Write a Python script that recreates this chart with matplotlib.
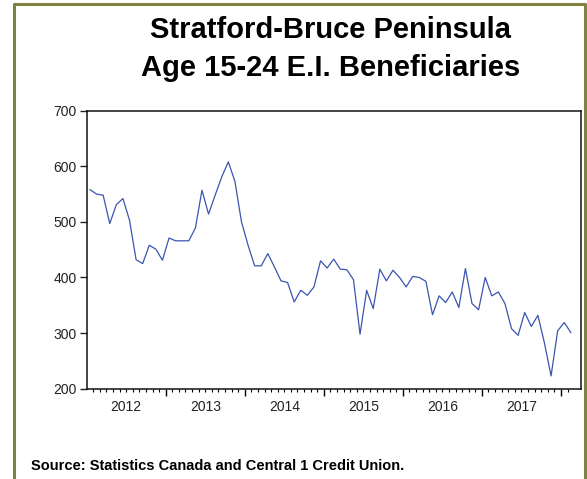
import matplotlib.pyplot as plt
from matplotlib.lines import Line2D
import numpy as np

plt.rcParams["font.family"] = ["Liberation Sans", "DejaVu Sans"]

# monthly E.I. beneficiaries, age 15-24, Jan 2012 .. Feb 2018
start_year = 2012
beneficiaries = [
    558, 550, 548, 497, 531, 542, 503, 432, 425, 458, 451, 431,
    471, 466, 466, 466, 489, 557, 514, 548, 581, 608, 573, 500,
    458, 421, 421, 443, 419, 394, 391, 356, 377, 368, 383, 430,
    417, 433, 415, 414, 396, 298, 377, 344, 415, 394, 413, 400,
    383, 402, 400, 393, 333, 367, 355, 374, 346, 416, 353, 342,
    400, 367, 374, 353, 308, 296, 337, 312, 332, 282, 223, 304,
    319, 301,
]
year_labels = ["2012", "2013", "2014", "2015", "2016", "2017"]
y_ticks = [200, 300, 400, 500, 600, 700]

x = start_year + (np.arange(len(beneficiaries)) + 0.5) / 12

fig = plt.figure(figsize=(5.87, 4.79), dpi=100)
ax = fig.add_axes([86.7 / 587, 1 - 388.7 / 479, 494 / 587, 278 / 479])

ax.plot(x, beneficiaries, color="#3a55b0", linewidth=0.9)

ax.set_xlim(start_year, start_year + (len(beneficiaries) + 1) / 12)
ax.set_ylim(200, 700)

# year boundaries as major ticks, months as minor ticks, no labels here
ax.set_xticks(np.arange(start_year + 1, start_year + 7))
ax.set_xticks(np.arange(start_year * 12 + 1, (start_year + 6) * 12 + 2) / 12, minor=True)
ax.tick_params(axis="x", which="major", length=5, width=1, labelbottom=False)
ax.tick_params(axis="x", which="minor", length=2.5, width=0.8)
ax.set_yticks(y_ticks)
ax.tick_params(axis="y", length=5, width=1, labelsize=10, pad=2, colors="#222222")

# year labels centred in each year
sec = ax.secondary_xaxis("bottom")
sec.set_xticks([int(y) + 0.5 for y in year_labels])
sec.set_xticklabels(year_labels)
sec.tick_params(length=0, labelsize=10, pad=8, colors="#222222")
sec.spines["bottom"].set_visible(False)

for s in ax.spines.values():
    s.set_linewidth(1.1)
    s.set_color("#111111")

fig.text(0.563, 1 - 30 / 479, "Stratford-Bruce Peninsula", ha="center", va="center",
         fontsize=21, fontweight="bold")
fig.text(0.563, 1 - 68 / 479, "Age 15-24 E.I. Beneficiaries", ha="center", va="center",
         fontsize=21, fontweight="bold")
fig.text(31 / 587, 1 - 466 / 479, "Source: Statistics Canada and Central 1 Credit Union.",
         ha="left", va="center", fontsize=10.5, fontweight="bold")

# olive frame (open at the bottom)
frame = "#808040"
fx0, fx1, fy1 = 13.5 / 587, 585 / 587, 1 - 3.5 / 479
fig.add_artist(Line2D([fx0, fx0, fx1, fx1], [0, fy1, fy1, 0], color=frame, linewidth=2.2,
                      transform=fig.transFigure))

fig.savefig("out.png", dpi=100)
